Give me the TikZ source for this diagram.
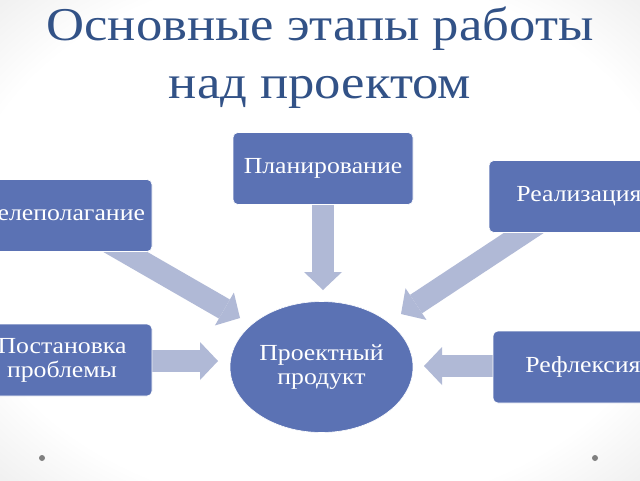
\documentclass[tikz,border=0pt]{standalone}
\usepackage{fontspec}
\setmainfont{Liberation Serif}
\newfontfamily\cyrserif[FakeStretch=1.12]{Liberation Serif}
\usetikzlibrary{shapes.geometric,arrows.meta}
\definecolor{boxblue}{RGB}{91,114,180}
\definecolor{arrowblue}{RGB}{176,185,214}
\definecolor{titleblue}{RGB}{50,82,135}
\definecolor{dotgray}{RGB}{128,128,128}
\pgfdeclareradialshading{bgshade}{\pgfpoint{0bp}{0bp}}{color(0bp)=(white); color(28bp)=(white); color(50bp)=(black!17); color(72bp)=(black!25)}
\begin{document}
\begin{tikzpicture}[x=1pt,y=-1pt,
  stagebox/.style={rectangle, rounded corners=5pt, fill=boxblue, draw=white, line width=0.6pt,
    minimum width=180pt, minimum height=72pt, text=white, align=center,
    font=\cyrserif\fontsize{23}{24}\selectfont, inner sep=0pt},
  prodnode/.style={ellipse, fill=boxblue, draw=white, line width=0.6pt,
    minimum width=183pt, minimum height=131pt, text=white, align=center,
    font=\cyrserif\fontsize{23}{24}\selectfont, inner sep=0pt},
  blk/.style={draw=arrowblue, line width=22pt, line cap=butt,
    -{Triangle[length=18pt,width=38pt,line width=0pt]}},
  titletext/.style={text=titleblue, font=\cyrserif\fontsize{47}{58}\selectfont, anchor=base, inner sep=0pt},
  dotmark/.style={circle, fill=dotgray, minimum size=6pt, inner sep=0pt}
]
\useasboundingbox (0,0) rectangle (640,480);
\clip (0,0) rectangle (640,480);
\path[shading=bgshade] (0,0) rectangle (640,480);

% title
\node[titletext] (t1) at (320,40) {Основные этапы работы};
\node[titletext] (t2) at (320,98) {над проектом};

% arrow tip coordinates
\coordinate (tipgoal) at (240,318);
\coordinate (tipplan) at (323,290);
\coordinate (tipreal) at (401,314);
\coordinate (tipprob) at (218,361);
\coordinate (tiprefl) at (424,366);
\coordinate (cgoal) at (62,215.5);
\coordinate (cplan) at (323,168.5);
\coordinate (creal) at (579,196.5);
\coordinate (cprob) at (62,361);
\coordinate (crefl) at (583,366);

% block arrows (drawn under the boxes)
\draw[blk] (cgoal) -- (tipgoal);
\draw[blk] (cplan) -- (tipplan);
\draw[blk] (creal) -- (tipreal);
\draw[blk] (cprob) -- (tipprob);
\draw[blk] (crefl) -- (tiprefl);

% boxes
\node[stagebox] (goal) at (cgoal) {Целеполагание};
\node[stagebox] (plan) at (cplan) {Планирование};
\node[stagebox] (real) at (creal) {Реализация};
\node[stagebox] (prob) at (62,360) {Постановка\\проблемы};
\node[stagebox] (refl) at (583,367) {Рефлексия};

\node[prodnode] (prod) at (321.5,367) {Проектный\\продукт};

% slide dots
\node[dotmark] (dotl) at (42,458) {};
\node[dotmark] (dotr) at (595,458) {};
\end{tikzpicture}
\end{document}
